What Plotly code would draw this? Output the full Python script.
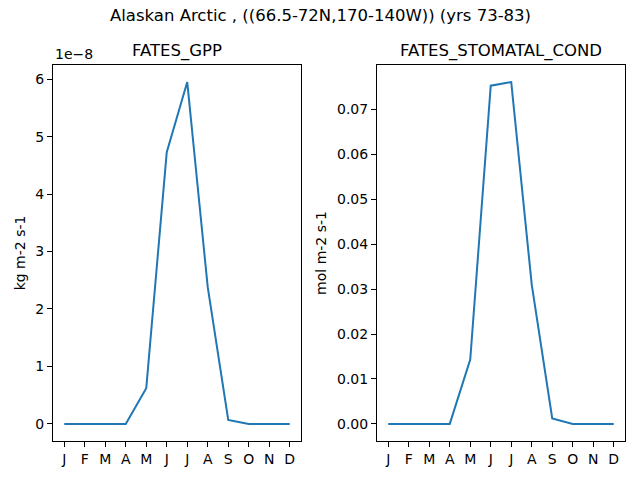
import plotly.graph_objects as go

months = ['J', 'F', 'M', 'A', 'M', 'J', 'J', 'A', 'S', 'O', 'N', 'D']
gpp = [0, 0, 0, 0, 0.62e-8, 4.73e-8, 5.95e-8, 2.38e-8, 0.07e-8, 0, 0, 0]
stomatal_cond = [0, 0, 0, 0, 0.0143, 0.0753, 0.0761, 0.031, 0.0012, 0, 0, 0]

x = list(range(len(months)))
font = 'DejaVu Sans'
blue = '#1f77b4'

fig = go.Figure()
fig.add_scatter(x=x, y=gpp, mode='lines', line=dict(color=blue, width=2),
                xaxis='x', yaxis='y', showlegend=False)
fig.add_scatter(x=x, y=stomatal_cond, mode='lines', line=dict(color=blue, width=2),
                xaxis='x2', yaxis='y2', showlegend=False)

axis_style = dict(showline=True, mirror=True, linecolor='black', linewidth=1,
                  ticks='outside', ticklen=5, tickcolor='black', tickwidth=1,
                  showgrid=False, zeroline=False, automargin=False,
                  tickfont=dict(family=font, size=14, color='black'))

xdom = dict(tickmode='array', tickvals=x, ticktext=months, range=[-0.55, 11.55])
fig.update_layout(
    width=640, height=480,
    margin=dict(l=0, r=0, t=0, b=0),
    paper_bgcolor='white', plot_bgcolor='white',
    font=dict(family=font, color='black'),
    xaxis=dict(domain=[0.0828, 0.4703], anchor='y', **xdom, **axis_style),
    yaxis=dict(domain=[0.0813, 0.8646], anchor='x', range=[-0.2975e-8, 6.2475e-8],
               tickmode='array', tickvals=[i * 1e-8 for i in range(7)],
               ticktext=[str(i) for i in range(7)],
               title=dict(text='kg m-2 s-1', font=dict(size=14), standoff=6),
               **axis_style),
    xaxis2=dict(domain=[0.589, 0.9766], anchor='y2', **xdom, **axis_style),
    yaxis2=dict(domain=[0.0813, 0.8646], anchor='x2', range=[-0.0038, 0.0799],
                tickmode='array', tickvals=[i / 100 for i in range(8)],
                ticktext=['%.2f' % (i / 100) for i in range(8)],
                title=dict(text='mol m-2 s-1', font=dict(size=14), standoff=7),
                **axis_style),
    annotations=[
        dict(text='Alaskan Arctic , ((66.5-72N,170-140W)) (yrs 73-83)', x=0.5, y=1 - 16 / 480,
             xref='paper', yref='paper', showarrow=False, font=dict(size=16.5),
             xanchor='center', yanchor='middle'),
        dict(text='FATES_GPP', x=(0.0828 + 0.4703) / 2, y=0.8646 + 14 / 480,
             xref='paper', yref='paper', showarrow=False, font=dict(size=16.5),
             xanchor='center', yanchor='middle'),
        dict(text='FATES_STOMATAL_COND', x=(0.589 + 0.9766) / 2, y=0.8646 + 14 / 480,
             xref='paper', yref='paper', showarrow=False, font=dict(size=16.5),
             xanchor='center', yanchor='middle'),
        dict(text='1e\u22128', x=0.0828, y=0.8646 + 1 / 480,
             xref='paper', yref='paper', showarrow=False, font=dict(size=14),
             xanchor='left', yanchor='bottom'),
    ],
)

# the page's default body margin would shift the whole figure by 8px
fig.write_html('out.html', config={'displayModeBar': False},
               post_script="document.body.style.margin = '0';")
